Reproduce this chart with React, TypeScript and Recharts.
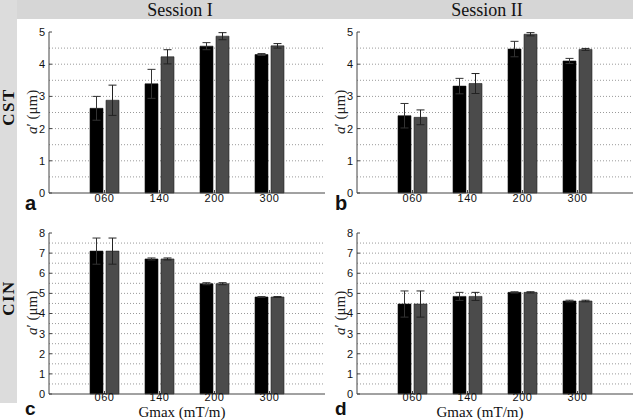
import { BarChart, Bar, XAxis, YAxis, CartesianGrid, ErrorBar } from "recharts";

const categories = ["060", "140", "200", "300"];

// Session I, CST
const cstS1Black = [2.63, 3.39, 4.56, 4.3];
const cstS1BlackErr = [0.37, 0.45, 0.11, 0.03];
const cstS1Gray = [2.88, 4.23, 4.87, 4.57];
const cstS1GrayErr = [0.47, 0.22, 0.11, 0.07];

// Session II, CST
const cstS2Black = [2.4, 3.32, 4.47, 4.1];
const cstS2BlackErr = [0.38, 0.24, 0.24, 0.08];
const cstS2Gray = [2.35, 3.4, 4.93, 4.46];
const cstS2GrayErr = [0.23, 0.31, 0.05, 0.03];

// Session I, CIN
const cinS1Black = [7.1, 6.71, 5.48, 4.82];
const cinS1BlackErr = [0.65, 0.05, 0.05, 0.02];
const cinS1Gray = [7.1, 6.71, 5.48, 4.82];
const cinS1GrayErr = [0.65, 0.05, 0.05, 0.02];

// Session II, CIN
const cinS2Black = [4.47, 4.85, 5.05, 4.62];
const cinS2BlackErr = [0.65, 0.2, 0.03, 0.04];
const cinS2Gray = [4.47, 4.85, 5.05, 4.62];
const cinS2GrayErr = [0.65, 0.2, 0.03, 0.04];

const cstTicks = [0, 1, 2, 3, 4, 5];
const cstGrid = [0.5, 1, 1.5, 2, 2.5, 3, 3.5, 4, 4.5];
const cinTicks = [0, 1, 2, 3, 4, 5, 6, 7, 8];
const cinGrid = [0.5, 1, 1.5, 2, 2.5, 3, 3.5, 4, 4.5, 5, 5.5, 6, 6.5, 7, 7.5];

const PLOT_W = 276;
const PLOT_H = 161;
const sans = "'Liberation Sans', Arial, sans-serif";
const serif = "'Liberation Serif', 'Times New Roman', serif";
const boxColor = "#444";

interface PanelProps {
  left: number;
  top: number;
  black: number[];
  blackErr: number[];
  gray: number[];
  grayErr: number[];
  ticks: number[];
  grid: number[];
  labelGap: number;
}

function Panel({ left, top, black, blackErr, gray, grayErr, ticks, grid, labelGap }: PanelProps) {
  const data = categories.map((c, i) => ({
    cat: c,
    black: black[i],
    blackErr: blackErr[i],
    gray: gray[i],
    grayErr: grayErr[i],
  }));
  const max = ticks[ticks.length - 1];
  return (
    <div style={{ position: "absolute", left: left - 30, top: top - 12 }}>
      <BarChart
        width={PLOT_W + 36}
        height={PLOT_H + 34}
        data={data}
        margin={{ top: 12, right: 6, bottom: 2, left: 6 }}
        barSize={13}
        barGap={3}
      >
        <CartesianGrid
          vertical={false}
          horizontalValues={grid}
          stroke="#9a9a9a"
          strokeDasharray="1 2"
        />
        <XAxis
          dataKey="cat"
          padding={{ left: 28, right: 28 }}
          height={20}
          tickSize={-3}
          tickMargin={labelGap}
          axisLine={{ stroke: boxColor }}
          tickLine={{ stroke: boxColor }}
          tick={{ fill: "#111", fontSize: 11, fontFamily: sans, letterSpacing: 0.6 }}
          interval={0}
        />
        <XAxis
          xAxisId="top"
          dataKey="cat"
          orientation="top"
          padding={{ left: 28, right: 28 }}
          height={0}
          tickSize={-3}
          tick={false}
          axisLine={{ stroke: boxColor }}
          tickLine={{ stroke: boxColor }}
          interval={0}
        />
        <YAxis
          type="number"
          domain={[0, max]}
          ticks={ticks}
          width={24}
          tickSize={-3}
          tickMargin={7}
          axisLine={{ stroke: boxColor }}
          tickLine={{ stroke: boxColor }}
          tick={{ fill: "#111", fontSize: 11, fontFamily: sans }}
          interval={0}
        />
        <YAxis
          yAxisId="r"
          orientation="right"
          type="number"
          domain={[0, max]}
          ticks={ticks}
          width={0}
          tickSize={-3}
          tick={false}
          axisLine={{ stroke: boxColor }}
          tickLine={{ stroke: boxColor }}
        />
        <Bar dataKey="black" fill="#000" stroke="#111" strokeWidth={0.6} isAnimationActive={false}>
          <ErrorBar dataKey="blackErr" width={4} stroke="#333" strokeWidth={1} direction="y" isAnimationActive={false} />
        </Bar>
        <Bar dataKey="gray" fill="#4b4b4b" stroke="#222" strokeWidth={0.6} isAnimationActive={false}>
          <ErrorBar dataKey="grayErr" width={4} stroke="#222" strokeWidth={1} direction="y" isAnimationActive={false} />
        </Bar>
      </BarChart>
    </div>
  );
}

function RotLabel({ x, y, children, size, weight, spacing }: any) {
  return (
    <text
      transform={`translate(${x},${y}) rotate(-90)`}
      textAnchor="middle"
      fontFamily={serif}
      fontSize={size}
      fontWeight={weight}
      letterSpacing={spacing}
      fill="#111"
    >
      {children}
    </text>
  );
}

function YLabel({ x, y }: { x: number; y: number }) {
  return (
    <text transform={`translate(${x},${y}) rotate(-90)`} textAnchor="middle" fontFamily={serif} fontSize={15} fill="#222">
      <tspan fontStyle="italic">a</tspan>
      <tspan>{"\u2032 (\u03bcm)"}</tspan>
    </text>
  );
}

export default function App() {
  return (
    <div style={{ position: "absolute", left: 0, top: 0, width: 633, height: 420, overflow: "hidden", background: "#fff" }}>
      <svg width={633} height={420} style={{ position: "absolute", left: 0, top: 0 }}>
        <rect x={0} y={0} width={633} height={19} fill="#d6d6d6" />
        <rect x={0} y={0} width={17} height={403} fill="#dcdcdc" />
        <text x={180} y={16} textAnchor="middle" fontFamily={serif} fontSize={18} fill="#111">Session I</text>
        <text x={487} y={16} textAnchor="middle" fontFamily={serif} fontSize={18} fill="#111">Session II</text>
        <RotLabel x={14} y={107} size={17} weight="bold" spacing={1.5}>CST</RotLabel>
        <RotLabel x={14} y={298} size={17} weight="bold" spacing={1.5}>CIN</RotLabel>
        <YLabel x={37} y={112} />
        <YLabel x={345} y={112} />
        <YLabel x={37} y={313} />
        <YLabel x={345} y={313} />
        <text x={25} y={210} fontFamily={sans} fontWeight="bold" fontSize={20} fill="#111">a</text>
        <text x={335} y={210} fontFamily={sans} fontWeight="bold" fontSize={20} fill="#111">b</text>
        <text x={25} y={415} fontFamily={sans} fontWeight="bold" fontSize={19} fill="#111">c</text>
        <text x={335} y={415} fontFamily={sans} fontWeight="bold" fontSize={19} fill="#111">d</text>
        <text x={182} y={417} textAnchor="middle" fontFamily={serif} fontSize={15} fill="#111">Gmax (mT/m)</text>
        <text x={480} y={417} textAnchor="middle" fontFamily={serif} fontSize={15} fill="#111">Gmax (mT/m)</text>
      </svg>
      <Panel left={49} top={32} black={cstS1Black} blackErr={cstS1BlackErr} gray={cstS1Gray} grayErr={cstS1GrayErr} ticks={cstTicks} grid={cstGrid} labelGap={4} />
      <Panel left={357} top={32} black={cstS2Black} blackErr={cstS2BlackErr} gray={cstS2Gray} grayErr={cstS2GrayErr} ticks={cstTicks} grid={cstGrid} labelGap={4} />
      <Panel left={49} top={233} black={cinS1Black} blackErr={cinS1BlackErr} gray={cinS1Gray} grayErr={cinS1GrayErr} ticks={cinTicks} grid={cinGrid} labelGap={2} />
      <Panel left={357} top={233} black={cinS2Black} blackErr={cinS2BlackErr} gray={cinS2Gray} grayErr={cinS2GrayErr} ticks={cinTicks} grid={cinGrid} labelGap={2} />
    </div>
  );
}
